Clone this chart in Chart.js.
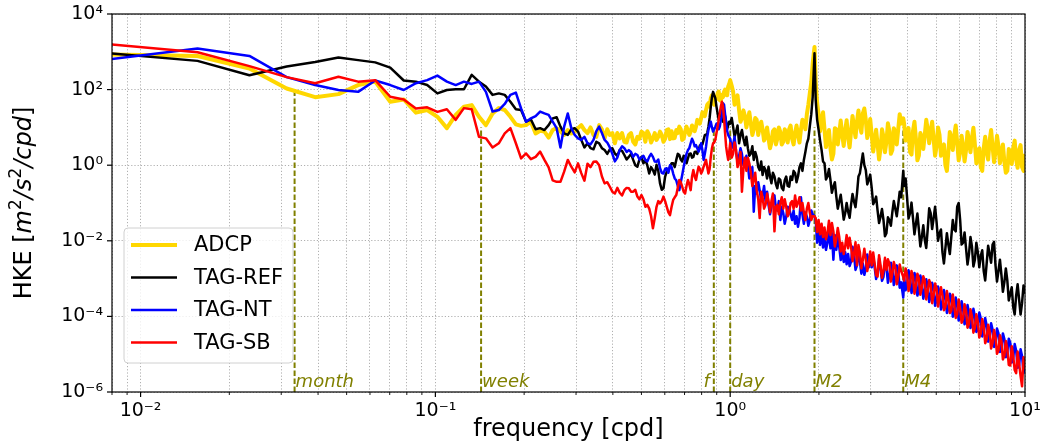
<!DOCTYPE html>
<html lang="en">
<head>
  <meta charset="UTF-8">
  <title>HKE spectra</title>
  <script src="https://cdn.jsdelivr.net/npm/chart.js@4.4.1/dist/chart.umd.min.js"></script>
  <style>
    html, body { margin: 0; padding: 0; background: #fff; }
    #wrap { width: 1046px; height: 444px; }
  </style>
</head>
<body>
  <div id="wrap"><canvas id="spec" width="1046" height="444"></canvas></div>
  <script>
    // frequency of each spectral estimate [cpd]
    const freq = [
      0.0078, 0.0156, 0.0234, 0.0313, 0.0391, 0.0469, 0.0547, 0.0625, 0.0703, 0.0781,
      0.0859, 0.0938, 0.1016, 0.1094, 0.1172, 0.125, 0.1328, 0.1406, 0.1484, 0.1563,
      0.1641, 0.1719, 0.1797, 0.1875, 0.1953, 0.2031, 0.2109, 0.2188, 0.2266, 0.2344,
      0.2422, 0.25, 0.2578, 0.2656, 0.2734, 0.2813, 0.2891, 0.2969, 0.3047, 0.3125,
      0.3203, 0.3281,
      0.3438, 0.3594, 0.375, 0.3906, 0.4063, 0.4219, 0.4375, 0.4531, 0.4688, 0.4844,
      0.5, 0.5156, 0.5313, 0.5469, 0.5625, 0.5781, 0.5938, 0.6094, 0.625, 0.6406,
      0.6563, 0.6719, 0.6875, 0.7031, 0.7188, 0.7344, 0.75, 0.7656, 0.7813, 0.7969,
      0.8125, 0.8281, 0.8438, 0.8594, 0.875, 0.8906, 0.9063, 0.9219, 0.9375, 0.9531,
      0.9688, 0.9844,
      1.0, 1.023, 1.047, 1.072, 1.096, 1.122, 1.148, 1.175, 1.202, 1.23,
      1.259, 1.288, 1.318, 1.349, 1.38, 1.413, 1.445, 1.479, 1.514, 1.549,
      1.585, 1.622, 1.66, 1.698, 1.738, 1.778, 1.82, 1.862, 1.905, 1.932, 1.95,
      1.995, 2.042, 2.089, 2.138, 2.188, 2.239, 2.291, 2.344, 2.399, 2.455,
      2.512, 2.57, 2.63, 2.692, 2.754, 2.818, 2.884, 2.951, 3.02, 3.09,
      3.162, 3.236, 3.311, 3.388, 3.467, 3.548, 3.631, 3.715, 3.802, 3.864, 3.89,
      3.981, 4.074, 4.169, 4.266, 4.365, 4.467, 4.571, 4.677, 4.786, 4.898,
      5.012, 5.129, 5.248, 5.37, 5.495, 5.623, 5.754, 5.888, 6.026, 6.166,
      6.31, 6.457, 6.607, 6.761, 6.918, 7.079, 7.244, 7.413, 7.586, 7.762,
      7.943, 8.128, 8.318, 8.511, 8.71, 8.913, 9.12, 9.333, 9.55, 9.772,
      10.0
    ];

    // odd bins between 0.33 and 1 cpd
    const freqOdd = [
      0.3359, 0.3516, 0.3672, 0.3828, 0.3984, 0.4141, 0.4297, 0.4453, 0.4609, 0.4766,
      0.4922, 0.5078, 0.5234, 0.5391, 0.5547, 0.5703, 0.5859, 0.6016, 0.6172, 0.6328,
      0.6484, 0.6641, 0.6797, 0.6953, 0.7109, 0.7266, 0.7422, 0.7578, 0.7734, 0.7891,
      0.8047, 0.8203, 0.8359, 0.8516, 0.8672, 0.8828, 0.8984, 0.9141, 0.9297, 0.9453,
      0.9609, 0.9766, 0.9922
    ];

    // extra estimates in between, above 1 cpd (edges of the noise band)
    const freqMid = [
      1.012, 1.035, 1.059, 1.084, 1.109, 1.135, 1.161, 1.189, 1.216, 1.245,
      1.274, 1.303, 1.334, 1.365, 1.396, 1.429, 1.462, 1.496, 1.531, 1.567,
      1.603, 1.641, 1.679, 1.718, 1.758, 1.799, 1.841, 1.884,
      1.972, 2.018, 2.065, 2.113, 2.163, 2.213, 2.265, 2.317, 2.371, 2.427, 2.483,
      2.541, 2.6, 2.661, 2.723, 2.786, 2.851, 2.917, 2.985, 3.055, 3.126,
      3.199, 3.273, 3.35, 3.428, 3.508, 3.589, 3.673, 3.758,
      3.936, 4.027, 4.121, 4.217, 4.315, 4.416, 4.519, 4.624, 4.732, 4.842, 4.955,
      5.07, 5.188, 5.309, 5.433, 5.559, 5.689, 5.821, 5.957, 6.095, 6.237,
      6.383, 6.531, 6.683, 6.839, 6.998, 7.161, 7.328, 7.499, 7.674, 7.852,
      8.035, 8.222, 8.414, 8.61, 8.81, 9.016, 9.226, 9.441, 9.661, 9.886
    ];

    // log10 of HKE [m2/s2/cpd]
    const adcpLog = [
      2.93, 2.89, 2.56, 2.03, 1.80, 1.88, 2.12, 2.21, 1.68, 1.74,
      1.39, 1.46, 1.28, 0.98, 1.33, 1.55, 1.59, 1.28, 1.06, 1.37,
      1.51, 1.46, 1.28, 1.08, 1.04, 1.06, 1.15, 0.84, 0.91, 0.89,
      0.73, 0.93, 0.98, 0.89, 0.80, 0.93, 0.84, 0.89, 0.98, 1.06,
      0.93, 0.85,
      0.80, 1.06, 0.71, 0.80, 0.58, 0.71, 0.62, 0.80, 0.62, 0.75,
      0.89, 0.62, 0.80, 0.71, 0.67, 0.89, 0.62, 0.93, 0.69, 0.71,
      0.93, 1.02, 0.67, 0.89, 0.91, 0.89, 0.98, 1.02, 1.15, 1.24,
      1.37, 1.46, 1.64, 1.77, 1.64, 1.81, 1.90, 1.72, 1.86, 1.94,
      1.86, 2.08,
      2.25, 1.95, 1.75, 1.45, 1.25, 1.30, 1.20, 1.10, 0.95, 1.20,
      1.00, 0.95, 0.75, 0.70, 0.60, 0.95, 0.70, 0.88, 0.62, 0.85,
      0.95, 0.70, 0.85, 0.80, 0.95, 1.15, 1.35, 1.90, 2.70, 3.13, 2.20,
      1.35, 1.15, 0.95, 0.70, 0.45, 0.30, 0.95, 0.85, 0.80, 0.92,
      0.75, 0.88, 1.02, 1.15, 1.05, 1.37, 1.20, 0.93, 0.80, 0.62,
      0.55, 0.45, 0.75, 0.62, 0.90, 0.40, 0.85, 0.95, 1.10, 1.24, 1.10,
      0.90, 0.35, 0.90, 0.70, 0.25, 0.75, 0.80, 0.95, 0.90, 0.70,
      0.50, 0.80, 0.40, 0.00, 0.35, 0.70, 0.80, 0.60, 0.35, 0.50,
      0.40, 0.65, 0.72, 0.55, 0.25, -0.05, 0.45, 0.35, 0.65, 0.50,
      0.35, 0.50, 0.30, 0.10, -0.15, 0.30, 0.45, 0.15, 0.40, -0.05,
      0.30
    ];
    const adcpLogOdd = [
      1.00, 0.75, 0.95, 0.95, 0.85, 0.85, 0.85, 0.60, 0.85, 0.55,
      0.70, 0.85, 0.90, 0.60, 0.85, 0.75, 0.80, 0.70, 0.95, 0.90,
      0.72, 0.85, 0.95, 0.70, 1.02, 0.80, 1.05, 0.90, 1.20, 1.10,
      1.40, 1.30, 1.60, 1.55, 1.85, 1.60, 1.75, 1.95, 1.70, 1.80,
      2.00, 1.85, 2.15
    ];
    const adcpLogMid = [
      2.10, 1.60, 1.85, 1.15, 1.45, 1.00, 1.40, 0.80, 1.25, 0.80,
      1.15, 0.65, 1.00, 0.45, 0.90, 0.55, 1.00, 0.55, 0.95, 0.60,
      1.05, 0.55, 1.05, 0.60, 1.20, 0.95, 1.60, 2.20,
      1.65, 0.90, 1.40, 0.48, 0.93, 0.15, 0.98, 0.55, 1.18, 0.51, 1.19,
      0.47, 1.30, 0.74, 1.45, 0.86, 1.50, 0.72, 1.22, 0.36, 0.94,
      0.15, 0.95, 0.34, 1.11, 0.30, 0.98, 0.55, 1.35,
      0.65, 0.98, 0.28, 1.15, 0.13, 0.85, 0.43, 1.20, 0.58, 1.15, 0.25,
      1.00, 0.25, 0.55, -0.15, 0.88, 0.40, 1.05, 0.13, 0.78, 0.10,
      0.88, 0.34, 0.99, 0.05, 0.45, -0.15, 0.75, 0.15, 0.93, 0.08,
      0.78, 0.05, 0.55, -0.20, 0.43, 0.03, 0.65, -0.07, 0.53, -0.15
    ];

    const refLog = [
      2.96, 2.76, 2.38, 2.61, 2.73, 2.85, 2.78, 2.72, 2.58, 2.24,
      2.21, 2.12, 1.90, 1.99, 2.01, 2.01, 2.39, 2.21, 2.08, 1.86,
      1.90, 1.86, 1.68, 1.48, 1.46, 1.15, 1.21, 0.95, 0.98, 0.93,
      1.06, 1.24, 1.27, 1.02, 0.84, 0.80, 0.95, 0.98, 0.89, 0.67,
      0.47, 0.58,
      0.42, 0.58, 0.40, 0.42, 0.31, 0.40, 0.27, 0.22, 0.14, -0.04,
      0.22, 0.14, -0.22, -0.13, 0.01, -0.48, -0.61, -0.17, -0.04, 0.05,
      0.14, 0.27, 0.10, 0.22, 0.18, 0.31, 0.22, 0.36, 0.40, 0.53,
      0.67, 0.80, 1.02, 1.55, 1.94, 1.77, 1.37, 1.35, 1.25, 1.20,
      1.15, 1.05,
      1.10, 1.02, 0.89, 0.58, 0.93, 0.53, 0.45, 0.31, 0.14, 0.22,
      -0.13, -0.26, -0.13, -0.04, -0.48, -0.30, -0.61, -0.39, -0.66, -0.30,
      -0.57, -0.39, -0.21, -0.30, 0.05, 0.14, 0.58, 1.02, 1.81, 2.96, 1.72,
      0.93, 0.40, 0.05, -0.30, -0.39, -0.57, -0.83, -0.96, -1.10, -1.27,
      -1.23, -1.05, -0.96, -0.75, -0.21, 0.31, -0.13, -0.39, -0.60, -0.95,
      -1.20, -1.36, -1.45, -1.80, -1.45, -1.25, -1.15, -1.05, -0.85, -0.15, -0.55,
      -0.85, -1.27, -1.40, -1.55, -1.70, -1.90, -1.98, -1.70, -1.27, -1.40,
      -1.50, -1.80, -2.30, -2.20, -2.10, -1.90, -1.70, -1.10, -1.45, -2.05,
      -2.20, -2.35, -2.15, -2.50, -2.30, -2.40, -2.80, -2.60, -2.35, -2.10,
      -2.65, -2.80, -2.90, -3.10, -3.05, -3.40, -3.75, -3.45, -3.55, -3.65,
      -3.40
    ];
    const refLogOdd = [
      0.45, 0.62, 0.45, 0.30, 0.45, 0.25, 0.38, 0.15, 0.30, 0.00,
      0.15, 0.05, 0.00, -0.05, -0.25, -0.15, -0.65, -0.30, -0.15, 0.05,
      -0.05, 0.30, 0.15, 0.25, 0.05, 0.30, 0.20, 0.35, 0.30, 0.52,
      0.55, 0.80, 0.85, 1.25, 1.80, 1.85, 1.55, 1.20, 1.45, 1.15,
      1.30, 0.95, 1.15
    ];
    const refLogMid = [
      1.25, 0.75, 1.05, 0.80, 0.70, 0.75, 0.25, 0.50, 0.35, -0.05,
      0.10, -0.05, -0.35, -0.30, -0.20, -0.50, -0.35, -0.60, -0.40, -0.55,
      -0.30, -0.15, -0.45, -0.05, -0.15, 0.35, 0.70, 1.35,
      1.20, 0.65, 0.10, -0.38, -0.10, -0.73, -0.45, -1.15, -0.78, -1.44, -1.00,
      -1.39, -0.76, -1.11, -0.30, 0.05, 0.00, -0.51, -0.25, -1.03, -0.83,
      -1.53, -1.16, -1.88, -1.38, -1.60, -0.95, -1.35, -0.70,
      -0.35, -1.41, -0.99, -1.83, -1.28, -2.15, -1.59, -2.19, -1.14, -1.69, -1.10,
      -2.00, -1.70, -2.60, -1.80, -2.35, -1.45, -1.75, -1.00, -2.10, -1.78,
      -2.63, -1.90, -2.68, -2.05, -2.70, -2.25, -3.05, -2.13, -2.58, -2.03,
      -3.08, -2.50, -3.35, -2.73, -3.58, -3.23, -3.95, -3.15, -3.95, -3.18
    ];

    const ntLog = [
      2.80, 3.09, 2.89, 2.33, 2.12, 1.99, 1.94, 2.24, 2.12, 1.99,
      2.17, 2.25, 2.37, 2.21, 2.12, 2.21, 2.15, 2.21, 1.94, 1.42,
      1.46, 1.62, 1.86, 1.92, 1.50, 1.15, 1.24, 1.30, 1.42, 1.37,
      1.33, 1.15, 0.98, 0.47, 1.02, 1.37, 0.98, 0.80, 0.71, 0.67,
      0.75, 0.58,
      0.67, 1.02, 0.67, 0.47, 0.10, 0.40, 0.45, 0.40, 0.22, 0.27,
      0.20, 0.14, 0.22, 0.22, 0.09, -0.08, -0.22, -0.08, 0.00, -0.22,
      -0.40, -0.66, -0.26, 0.14, 0.40, 0.58, 0.62, 0.53, 0.36, 0.58,
      0.14, 0.49, 0.93, 1.15, 0.89, 1.02, 1.11, 1.02, 1.30, 1.60,
      1.10, 0.80,
      0.70, 0.55, 0.35, 0.25, 0.30, 0.10, 0.00, -0.30, -1.23, -0.75,
      -0.66, -0.80, -0.95, -1.05, -1.10, -0.80, -1.20, -1.45, -1.27, -1.36,
      -1.15, -1.45, -1.55, -1.63, -0.85, -1.55, -1.36, -1.45, -1.30, -1.35, -1.45,
      -1.60, -1.65, -1.90, -2.05, -2.20, -2.50, -2.24, -2.16, -2.24, -2.30,
      -2.35, -2.55, -2.35, -2.65, -2.55, -2.60, -2.75, -2.70, -2.70, -2.70,
      -2.86, -2.75, -2.95, -2.70, -2.90, -2.75, -3.00, -2.80, -3.10, -3.50, -2.95,
      -3.15, -2.95, -3.20, -3.00, -3.30, -3.10, -3.35, -3.20, -3.45, -3.25,
      -3.55, -3.35, -3.70, -3.50, -3.80, -3.50, -3.90, -3.70, -4.00, -3.80,
      -4.10, -3.90, -4.20, -4.00, -4.35, -4.05, -4.40, -4.25, -4.55, -4.35,
      -4.70, -4.45, -4.80, -4.60, -4.95, -4.70, -5.10, -4.90, -5.30, -5.05,
      -5.15
    ];
    const ntLogOdd = [
      0.55, 0.90, 0.85, 0.60, 0.30, 0.20, 0.50, 0.35, 0.35, 0.30,
      0.15, 0.25, 0.10, 0.30, 0.10, 0.15, -0.20, -0.10, -0.20, -0.05,
      -0.35, -0.55, -0.45, -0.05, 0.30, 0.45, 0.70, 0.50, 0.45, 0.45,
      0.40, 0.30, 0.75, 1.05, 1.00, 0.95, 1.10, 0.95, 1.20, 1.64,
      1.35, 0.90, 0.75
    ];
    const ntLogMid = [
      0.45, 0.75, 0.10, 0.45, 0.00, 0.25, -0.35, -0.05, -0.55, -0.45,
      -0.95, -0.55, -0.70, -1.30, -0.85, -1.15, -0.95, -1.10, -1.55, -1.10,
      -1.30, -1.20, -1.35, -1.40, -1.30, -1.25, -1.60, -1.20,
      -2.05, -2.11, -2.18, -2.24, -1.74, -1.80, -1.85, -1.90, -2.51, -2.56, -2.62,
      -2.67, -2.16, -2.77, -2.26, -2.87, -2.90, -2.36, -2.39, -2.42, -3.01,
      -2.47, -3.06, -2.53, -3.11, -2.58, -3.17, -2.65, -3.24,
      -3.31, -2.78, -3.38, -2.85, -3.45, -2.92, -3.53, -3.02, -3.62, -3.11, -3.72,
      -3.21, -3.82, -3.30, -3.91, -3.40, -4.01, -3.50, -4.11, -3.60, -4.21,
      -3.70, -4.31, -3.80, -4.41, -3.90, -4.53, -4.04, -4.67, -4.18, -4.81,
      -4.32, -4.94, -4.45, -5.08, -4.59, -5.22, -4.73, -5.36, -4.87, -5.50
    ];

    const sbLog = [
      3.20, 2.99, 2.62, 2.33, 2.17, 2.34, 2.21, 2.25, 1.81, 1.74,
      1.50, 1.53, 1.41, 1.48, 1.20, 1.51, 1.48, 0.75, 0.71, 0.47,
      0.58, 0.84, 0.98, 0.58, 0.18, 0.31, 0.16, 0.22, 0.36, 0.14,
      -0.06, -0.40, -0.44, -0.44, -0.17, 0.14, -0.04, -0.19, 0.05, -0.21,
      -0.41, 0.04,
      0.09, 0.00, -0.48, -0.57, -0.75, -0.73, -0.66, -0.61, -0.70, -0.83,
      -0.79, -1.10, -1.15, -1.67, -1.10, -1.01, -0.83, -1.10, -1.32, -0.92,
      -0.79, -0.39, -0.57, -0.75, -0.39, -0.66, -0.13, -0.39, -0.04, -0.22,
      -0.04, 0.14, -0.22, 0.22, 0.58, 0.67, 1.02, 1.37, 1.68, 1.24,
      0.49, 0.14,
      0.58, 0.30, 0.40, 0.10, -0.70, 0.20, 0.20, -0.20, -0.40, -0.66,
      -1.40, -0.85, -1.05, -0.95, -0.95, -1.75, -1.05, -1.00, -1.15, -1.10,
      -1.25, -0.95, -0.80, -1.00, -1.20, -1.25, -1.15, -1.25, -1.35, -1.35, -1.40,
      -1.45, -1.55, -1.65, -1.80, -1.85, -1.75, -1.95, -1.90, -2.05, -2.15,
      -2.20, -2.15, -2.35, -2.65, -2.30, -2.50, -2.50, -2.60, -2.65, -2.60,
      -2.95, -2.65, -2.80, -2.77, -2.60, -2.85, -2.70, -2.95, -2.80, -2.95, -3.05,
      -2.90, -3.15, -2.95, -3.20, -3.00, -3.25, -3.05, -3.35, -3.15, -3.45,
      -3.25, -3.50, -3.45, -3.75, -3.55, -3.85, -3.70, -3.95, -3.80, -4.05,
      -3.85, -4.20, -4.00, -4.30, -4.15, -4.45, -4.25, -4.60, -4.40, -4.70,
      -4.55, -4.90, -4.65, -5.05, -4.85, -5.30, -5.05, -5.50, -5.25, -5.85,
      -5.40
    ];
    const sbLogOdd = [
      -0.05, 0.10, -0.30, -0.45, -0.70, -0.60, -0.80, -0.60, -0.70, -0.65,
      -0.90, -0.90, -1.05, -1.35, -1.40, -0.95, -0.95, -0.95, -1.25, -1.10,
      -0.85, -0.60, -0.45, -0.70, -0.55, -0.50, -0.30, -0.30, -0.20, -0.10,
      -0.15, 0.05, -0.05, -0.10, 0.45, 0.60, 0.85, 1.20, 1.55, 1.55,
      0.85, 0.30, 0.35
    ];
    const sbLogMid = [
      0.20, 0.60, -0.05, 0.35, -0.10, -0.15, 0.05, -0.55, -0.20, -0.90,
      -0.70, -1.15, -0.75, -1.25, -0.75, -1.10, -1.30, -0.85, -0.90, -1.35,
      -1.00, -1.15, -1.10, -0.85, -1.00, -1.45, -1.00, -1.45,
      -1.77, -1.83, -1.90, -1.96, -1.47, -1.53, -2.15, -1.66, -2.28, -2.35, -1.85,
      -1.92, -2.54, -2.04, -2.11, -2.73, -2.21, -2.80, -2.28, -2.31, -2.91,
      -2.38, -2.98, -2.45, -2.49, -3.08, -2.56, -3.15, -2.63,
      -2.73, -3.33, -2.80, -3.40, -2.87, -3.43, -2.94, -3.55, -3.04, -3.65, -3.13,
      -3.74, -3.23, -3.84, -3.33, -3.91, -3.42, -4.04, -3.55, -4.17, -3.68,
      -4.30, -3.81, -4.43, -3.94, -4.56, -4.07, -4.71, -4.22, -4.85, -4.36,
      -4.99, -4.50, -5.14, -4.65, -5.28, -4.79, -5.42, -4.93, -5.57, -5.08
    ];

    const seriesNames = ['ADCP', 'TAG-REF', 'TAG-NT', 'TAG-SB'];

    // reference periods drawn as dashed verticals
    const eventNames = ['month', 'week', 'f', 'day', 'M2', 'M4'];
    const eventFreq = [0.0333, 0.1429, 0.88, 1.0, 1.932, 3.864];
    const eventTop = [100, 10, 10, 10, 10, 10];

    const xMajor = [0.01, 0.1, 1, 10];
    const xMajorText = ['10⁻²', '10⁻¹', '10⁰', '10¹'];
    const yMajor = [1e-6, 1e-4, 1e-2, 1, 1e2, 1e4];
    const yMajorText = ['10⁻⁶', '10⁻⁴', '10⁻²', '10⁰', '10²', '10⁴'];

    const FONT = 'DejaVu Sans';
    const OLIVE = '#808000';
    const colors = ['#FFD700', '#000000', '#0000FF', '#FF0000'];
    const widths = [4, 2.5, 2.5, 2.5];

    Chart.defaults.font.family = FONT;
    Chart.defaults.color = '#000';

    function toPoints(vals, oddVals, midVals) {
      const pts = freq.map((f, i) => ({ x: f, y: Math.pow(10, vals[i]) }));
      freqOdd.forEach((f, i) => pts.push({ x: f, y: Math.pow(10, oddVals[i]) }));
      freqMid.forEach((f, i) => pts.push({ x: f, y: Math.pow(10, midVals[i]) }));
      return pts.sort((a, b) => a.x - b.x);
    }
    const allLogs = [adcpLog, refLog, ntLog, sbLog];
    const allOdds = [adcpLogOdd, refLogOdd, ntLogOdd, sbLogOdd];
    const allMids = [adcpLogMid, refLogMid, ntLogMid, sbLogMid];

    const datasets = seriesNames.map((name, i) => ({
      label: name,
      data: toPoints(allLogs[i], allOdds[i], allMids[i]),
      borderColor: colors[i],
      borderWidth: widths[i],
      pointRadius: 0,
      tension: 0,
      borderJoinStyle: 'round',
      clip: 0,
      order: 4 - i
    }));

    eventFreq.forEach((f, i) => {
      datasets.push({
        label: eventNames[i],
        data: [{ x: f, y: 1e-6 }, { x: f, y: eventTop[i] }],
        borderColor: OLIVE,
        borderWidth: 2,
        borderDash: [5.5, 2.5],
        pointRadius: 0,
        clip: 0,
        order: 10
      });
    });

    function findIdx(list, v) {
      return list.findIndex(m => Math.abs(m / v - 1) < 1e-6);
    }

    // axes frame, tick marks, event labels, legend and y title
    const decor = {
      id: 'decor',
      afterDraw(chart) {
        const { ctx, chartArea: a } = chart;
        const xs = chart.scales.x, ys = chart.scales.y;
        ctx.save();

        // event labels
        ctx.fillStyle = OLIVE;
        ctx.font = 'italic 18px "' + FONT + '"';
        ctx.textBaseline = 'alphabetic';
        eventNames.forEach((name, i) => {
          const px = xs.getPixelForValue(eventFreq[i]);
          if (name === 'f') {
            ctx.textAlign = 'right';
            ctx.fillText(name, px - 4, a.bottom - 5);
          } else {
            ctx.textAlign = 'left';
            ctx.fillText(name, px + 1, a.bottom - 5);
          }
        });

        // frame
        ctx.strokeStyle = '#000';
        ctx.lineWidth = 1.2;
        ctx.strokeRect(a.left, a.top, a.right - a.left, a.bottom - a.top);

        // tick marks
        xs.ticks.forEach(t => {
          const px = xs.getPixelForValue(t.value);
          const major = findIdx(xMajor, t.value) >= 0;
          ctx.lineWidth = major ? 1.2 : 0.9;
          ctx.beginPath();
          ctx.moveTo(px, a.bottom);
          ctx.lineTo(px, a.bottom + (major ? 5 : 3));
          ctx.stroke();
        });
        ys.ticks.forEach(t => {
          const py = ys.getPixelForValue(t.value);
          ctx.lineWidth = 1.2;
          ctx.beginPath();
          ctx.moveTo(a.left, py);
          ctx.lineTo(a.left - 5, py);
          ctx.stroke();
        });

        // legend
        const lx = 124, ly = 228, lw = 169, lh = 135, r = 4;
        ctx.beginPath();
        ctx.moveTo(lx + r, ly);
        ctx.arcTo(lx + lw, ly, lx + lw, ly + lh, r);
        ctx.arcTo(lx + lw, ly + lh, lx, ly + lh, r);
        ctx.arcTo(lx, ly + lh, lx, ly, r);
        ctx.arcTo(lx, ly, lx + lw, ly, r);
        ctx.closePath();
        ctx.fillStyle = 'rgba(255,255,255,0.8)';
        ctx.fill();
        ctx.strokeStyle = '#d0d0d0';
        ctx.lineWidth = 1;
        ctx.stroke();
        ctx.font = '21px "' + FONT + '"';
        ctx.textAlign = 'left';
        ctx.textBaseline = 'middle';
        seriesNames.forEach((name, i) => {
          const ry = 245 + i * 32.5;
          ctx.strokeStyle = colors[i];
          ctx.lineWidth = widths[i];
          ctx.beginPath();
          ctx.moveTo(131, ry);
          ctx.lineTo(177, ry);
          ctx.stroke();
          ctx.fillStyle = '#000';
          ctx.fillText(name, 194, ry + 1);
        });

        // y axis title: HKE [m^2/s^2/cpd]
        const parts = [
          ['HKE [', '24px', 0],
          ['m', 'italic 24px', 0],
          ['2', '17px', -10],
          ['/s', 'italic 24px', 0],
          ['2', '17px', -10],
          ['/cpd', 'italic 24px', 0],
          [']', '24px', 0]
        ];
        let total = 0;
        parts.forEach(p => { ctx.font = p[1] + ' "' + FONT + '"'; total += ctx.measureText(p[0]).width; });
        ctx.translate(31, (a.top + a.bottom) / 2);
        ctx.rotate(-Math.PI / 2);
        ctx.fillStyle = '#000';
        ctx.textBaseline = 'alphabetic';
        let cx = -total / 2;
        parts.forEach(p => {
          ctx.font = p[1] + ' "' + FONT + '"';
          ctx.fillText(p[0], cx, p[2]);
          cx += ctx.measureText(p[0]).width;
        });
        ctx.restore();
      }
    };

    new Chart(document.getElementById('spec'), {
      type: 'line',
      data: { datasets: datasets },
      options: {
        responsive: false,
        animation: false,
        layout: { padding: { left: 0, right: 21, top: 14, bottom: 0 } },
        plugins: { legend: { display: false }, tooltip: { enabled: false } },
        scales: {
          x: {
            type: 'logarithmic',
            min: 0.008,
            max: 10,
            afterBuildTicks: scale => {
              const ticks = [];
              for (let d = -3; d <= 1; d++) {
                for (let m = 1; m <= 9; m++) {
                  const v = m * Math.pow(10, d);
                  if (v >= 0.008 - 1e-12 && v <= 10 + 1e-9) ticks.push({ value: v });
                }
              }
              scale.ticks = ticks;
            },
            afterFit: scale => {
              scale.height = 52;
              scale.paddingLeft = 0;
              scale.paddingRight = 0;
            },
            grid: { color: '#b0b0b0', lineWidth: 1, drawTicks: false },
            border: { display: false, dash: [1.2, 2] },
            ticks: {
              autoSkip: false,
              maxRotation: 0,
              minRotation: 0,
              padding: 8,
              font: { size: 19 },
              callback: v => { const j = findIdx(xMajor, v); return j >= 0 ? xMajorText[j] : ''; }
            },
            title: {
              display: true,
              text: 'frequency [cpd]',
              font: { size: 24 },
              padding: { top: 0, bottom: 0 }
            }
          },
          y: {
            type: 'logarithmic',
            min: 1e-6,
            max: 1e4,
            afterBuildTicks: scale => {
              scale.ticks = yMajor.map(v => ({ value: v }));
            },
            afterFit: scale => {
              scale.width = 112;
              scale.paddingTop = 0;
              scale.paddingBottom = 0;
            },
            grid: { color: '#b0b0b0', lineWidth: 1, drawTicks: false },
            border: { display: false, dash: [1.2, 2] },
            ticks: {
              autoSkip: false,
              padding: 9,
              font: { size: 19 },
              callback: v => { const j = findIdx(yMajor, v); return j >= 0 ? yMajorText[j] : ''; }
            }
          }
        }
      },
      plugins: [decor]
    });
  </script>
</body>
</html>
